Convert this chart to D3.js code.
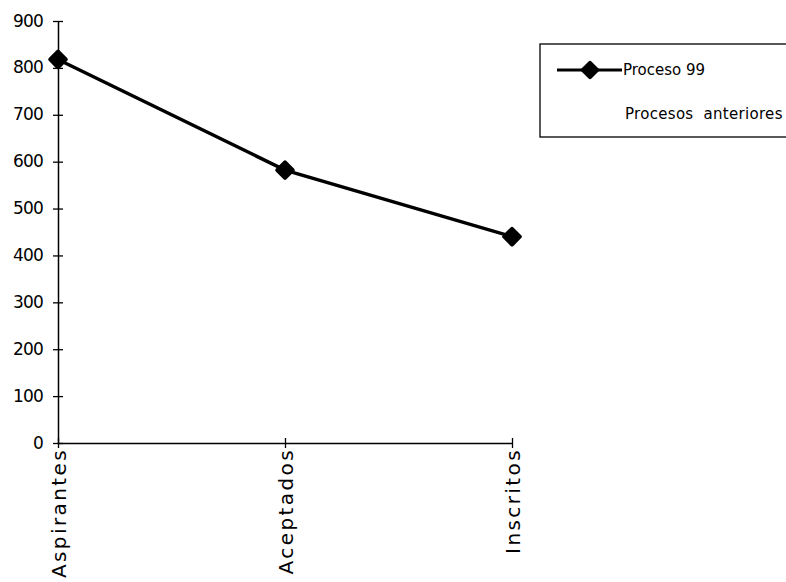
<!DOCTYPE html>
<html><head><meta charset="utf-8">
<script src="https://cdn.jsdelivr.net/npm/d3@7"></script>
<style>body{margin:0;background:#fff}svg{display:block}text{font-family:"DejaVu Sans",sans-serif;fill:#000}</style>
</head><body><svg id="c" width="786" height="582"></svg>
<script>
const categories = ["Aspirantes","Aceptados","Inscritos"];
const proceso99 = [818, 582, 440];
const yTicks = [0,100,200,300,400,500,600,700,800,900];
const legendLabels = ["Proceso 99","Procesos anteriores"];

const svg = d3.select("#c");
const x = d3.scalePoint().domain(categories).range([58, 512]);
const y = d3.scaleLinear().domain([0, 900]).range([443, 21]);

// y axis
const gy = svg.append("g").attr("transform","translate(58,0)")
  .call(d3.axisLeft(y).tickValues(yTicks).tickSize(5).tickSizeOuter(0).tickPadding(10));
gy.select(".domain").attr("stroke","#000").attr("stroke-width",1.5);
gy.selectAll(".tick line").attr("x1",5).attr("x2",-5).attr("stroke","#000").attr("stroke-width",1.3);
gy.selectAll(".tick text").style("font-size","17px").attr("dy","0.3em").attr("letter-spacing","-0.8");

// x axis
const gx = svg.append("g").attr("transform","translate(0,443)")
  .call(d3.axisBottom(x).tickSize(5).tickSizeOuter(0).tickPadding(0));
gx.select(".domain").attr("stroke","#000").attr("stroke-width",1.5);
gx.selectAll(".tick line").attr("y1",-5).attr("y2",5).attr("stroke","#000").attr("stroke-width",1.3);
gx.selectAll(".tick text").style("font-size","20px").attr("letter-spacing","2.4")
  .attr("text-anchor","end").attr("transform","translate(7,5) rotate(-90)").attr("dy","0").attr("x",0).attr("y",0);

// line
const line = d3.line().x((d,i)=>x(categories[i])).y(d=>y(d));
svg.append("path").datum(proceso99).attr("d",line).attr("fill","none").attr("stroke","#000").attr("stroke-width",3.4);
svg.selectAll(".pt").data(proceso99).enter().append("rect")
  .attr("x",-7.5).attr("y",-7.5).attr("width",15).attr("height",15).attr("rx",2)
  .attr("transform",(d,i)=>`translate(${x(categories[i])},${y(d)}) rotate(45)`)
  .attr("fill","#000");

// legend
const lg = svg.append("g");
lg.append("rect").attr("x",540).attr("y",44).attr("width",260).attr("height",93)
  .attr("fill","#fff").attr("stroke","#000").attr("stroke-width",1.3);
lg.append("line").attr("x1",557).attr("x2",622).attr("y1",70).attr("y2",70).attr("stroke","#000").attr("stroke-width",3);
lg.append("rect").attr("x",-7).attr("y",-7).attr("width",14).attr("height",14).attr("rx",2)
  .attr("transform","translate(590,70) rotate(45)").attr("fill","#000");
lg.append("text").attr("x",623).attr("y",70).attr("dy","0.35em").style("font-size","15px").text(legendLabels[0]);
lg.append("text").attr("x",625).attr("y",114).attr("dy","0.35em").style("font-size","15px")
  .attr("letter-spacing","0.3").attr("word-spacing","5").text(legendLabels[1]);
</script></body></html>
